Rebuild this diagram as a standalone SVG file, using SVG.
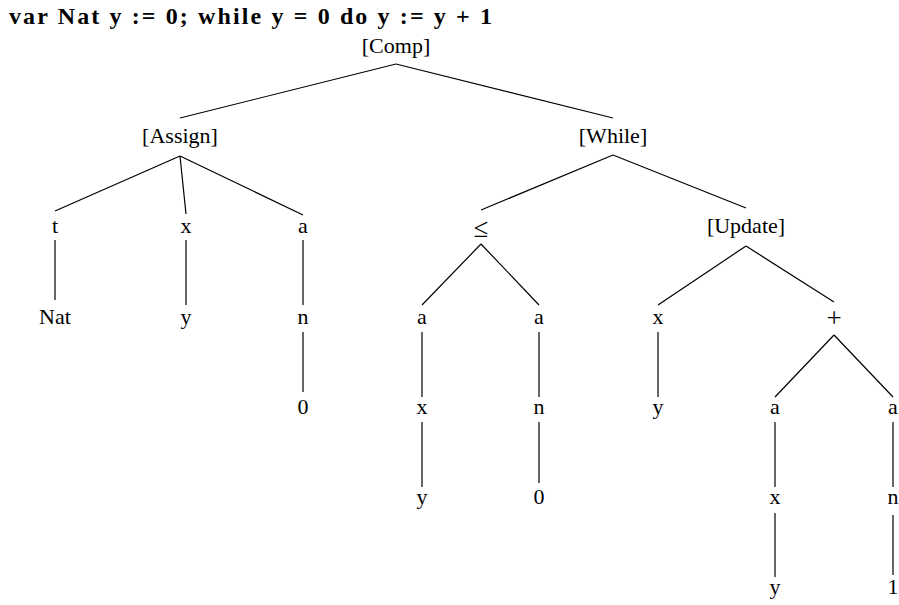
<svg xmlns="http://www.w3.org/2000/svg" width="899" height="605" viewBox="0 0 899 605">
<style>
text { font-family: "Liberation Serif", "DejaVu Serif", serif; font-size: 22px; fill: #000; text-anchor: middle; }
.title { font-weight: bold; font-size: 24px; text-anchor: start; }
.sym { font-size: 27px; }
#edges line { stroke: #000; stroke-width: 1.2; }
</style>
<rect width="899" height="605" fill="#fff"/>
<text class="title" x="9" y="24" textLength="483" lengthAdjust="spacing">var Nat y := 0; while y = 0 do y := y + 1</text>
<g id="edges">
<line x1="396" y1="64" x2="180" y2="118"/>
<line x1="396" y1="64" x2="613" y2="118"/>
<line x1="180" y1="156" x2="55" y2="211"/>
<line x1="180" y1="156" x2="186" y2="214"/>
<line x1="180" y1="156" x2="303" y2="215"/>
<line x1="55" y1="240" x2="55" y2="300"/>
<line x1="186" y1="240" x2="186" y2="305"/>
<line x1="303" y1="240" x2="303" y2="305"/>
<line x1="303" y1="332" x2="303" y2="392"/>
<line x1="613" y1="155" x2="481" y2="210"/>
<line x1="613" y1="155" x2="746" y2="208"/>
<line x1="481" y1="244" x2="422" y2="305"/>
<line x1="481" y1="244" x2="539" y2="305"/>
<line x1="422" y1="332" x2="422" y2="397"/>
<line x1="422" y1="422" x2="422" y2="487"/>
<line x1="539" y1="332" x2="539" y2="397"/>
<line x1="539" y1="422" x2="539" y2="483"/>
<line x1="746" y1="246" x2="658" y2="305"/>
<line x1="746" y1="246" x2="834" y2="302"/>
<line x1="658" y1="332" x2="658" y2="397"/>
<line x1="834" y1="335" x2="775" y2="397"/>
<line x1="834" y1="335" x2="893" y2="397"/>
<line x1="775" y1="422" x2="775" y2="487"/>
<line x1="775" y1="513" x2="775" y2="577"/>
<line x1="893" y1="422" x2="893" y2="487"/>
<line x1="893" y1="515" x2="893" y2="575"/>
</g>
<g id="n-comp"><text x="396" y="53">[Comp]</text></g>
<g id="n-assign"><text x="180" y="143">[Assign]</text></g>
<g id="n-while"><text x="613" y="143">[While]</text></g>
<g id="n-t"><text x="55" y="233">t</text></g>
<g id="n-x1"><text x="186" y="233">x</text></g>
<g id="n-a1"><text x="303" y="233">a</text></g>
<g id="n-le"><text class="sym" x="481" y="237">≤</text></g>
<g id="n-update"><text x="746" y="233">[Update]</text></g>
<g id="n-nat"><text x="55" y="324">Nat</text></g>
<g id="n-y1"><text x="186" y="324">y</text></g>
<g id="n-n1"><text x="303" y="324">n</text></g>
<g id="n-a2"><text x="422" y="324">a</text></g>
<g id="n-a3"><text x="539" y="324">a</text></g>
<g id="n-x2"><text x="658" y="324">x</text></g>
<g id="n-plus"><text class="sym" x="834" y="327">+</text></g>
<g id="n-01"><text x="303" y="414">0</text></g>
<g id="n-x3"><text x="422" y="414">x</text></g>
<g id="n-n2"><text x="539" y="414">n</text></g>
<g id="n-y2"><text x="658" y="414">y</text></g>
<g id="n-a4"><text x="775" y="414">a</text></g>
<g id="n-a5"><text x="893" y="414">a</text></g>
<g id="n-y3"><text x="422" y="504">y</text></g>
<g id="n-02"><text x="539" y="504">0</text></g>
<g id="n-x4"><text x="775" y="504">x</text></g>
<g id="n-n3"><text x="893" y="504">n</text></g>
<g id="n-y4"><text x="775" y="594">y</text></g>
<g id="n-1"><text x="893" y="594">1</text></g>
</svg>
